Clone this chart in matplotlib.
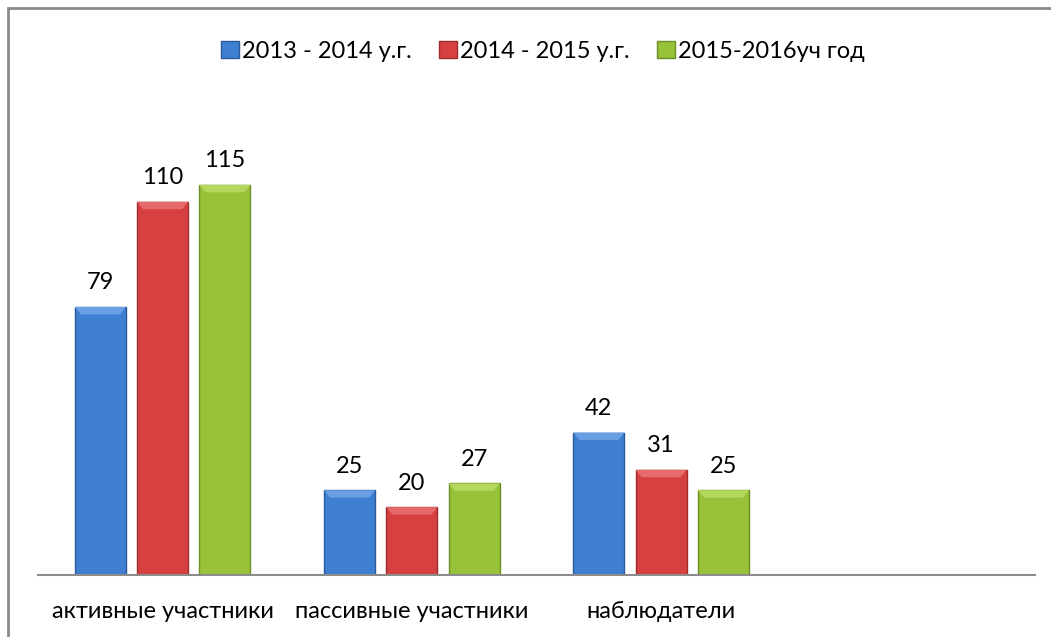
import matplotlib.pyplot as plt
from matplotlib.patches import Polygon, Rectangle
import numpy as np

plt.rcParams['font.family'] = ['Lato', 'DejaVu Sans']

categories = ["активные участники", "пассивные участники", "наблюдатели", ""]
series = ["2013 - 2014 у.г.", "2014 - 2015 у.г.", "2015-2016уч год"]
vals_2013 = [79, 25, 42]
vals_2014 = [110, 20, 31]
vals_2015 = [115, 27, 25]

colors = ["#3F7FD2", "#D64040", "#98C23A"]
edges = ["#2A5A9C", "#9E2C2C", "#6C8E26"]
tops = ["#6A9FE4", "#E56A6A", "#B4D85E"]

fig = plt.figure(figsize=(10.51, 6.37), dpi=100)
fig.patches.append(Rectangle((8 / 1051, -0.1), 1.2, 1 - 8 / 637 + 0.1,
                             transform=fig.transFigure, fill=False,
                             edgecolor="#8A8A8A", lw=2))
ax = fig.add_axes([38 / 1051, 1 - 575 / 637, (1035 - 38) / 1051, 475 / 637])

x = np.arange(len(categories))
width = 0.205
offsets = [-0.25, 0, 0.25]
all_vals = [vals_2013, vals_2014, vals_2015]

for i, vals in enumerate(all_vals):
    xs = x[:len(vals)] + offsets[i]
    bars = ax.bar(xs, vals, width, color=colors[i], edgecolor=edges[i],
                  lw=1.0, label=series[i], zorder=2)
    for b, v in zip(bars, vals):
        bx, bw, bh = b.get_x(), b.get_width(), b.get_height()
        inset = bw * 0.12
        dh = 2.2
        ax.add_patch(Polygon([(bx, bh), (bx + bw, bh),
                              (bx + bw - inset, bh - dh), (bx + inset, bh - dh)],
                             closed=True, color=tops[i], lw=0, zorder=3))
        ax.text(bx + bw / 2, bh + 4, str(v), ha="center", va="bottom",
                fontsize=17, color="#000000")

ax.set_xlim(-0.5, 3.5)
ax.set_ylim(0, 140)
ax.set_yticks([])
ax.set_xticks(x)
ax.set_xticklabels(categories, fontsize=17)
ax.tick_params(axis="x", length=0, pad=19)
for s in ["top", "right", "left"]:
    ax.spines[s].set_visible(False)
ax.spines["bottom"].set_color("#8C8C8C")
ax.spines["bottom"].set_linewidth(1.5)

fig.legend(loc="center", bbox_to_anchor=(543 / 1051, 1 - 51 / 637), ncol=3,
           frameon=False, fontsize=17, handlelength=0.75, handleheight=0.75,
           handletextpad=0.15, columnspacing=1.15)

fig.savefig("out.png", dpi=100)
